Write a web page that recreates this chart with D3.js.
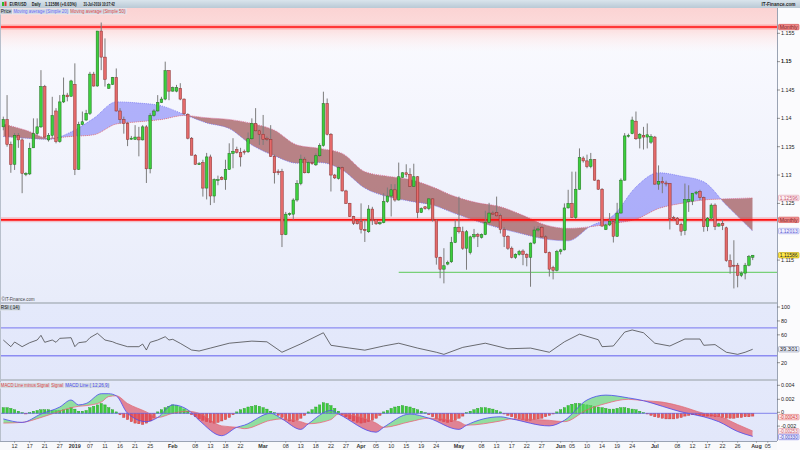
<!DOCTYPE html>
<html><head><meta charset="utf-8">
<script src="https://cdn.jsdelivr.net/npm/d3@7/dist/d3.min.js"></script>
<style>
html,body{margin:0;padding:0;background:#fff;}
svg{display:block;font-family:"Liberation Sans",Arial,sans-serif;}
</style></head><body>
<svg id="c" width="800" height="450"></svg>
<script>
// ---------------- DATA ----------------
const opens = [1.1385,1.1398,1.1354,1.1319,1.1370,1.1362,1.1302,1.1302,1.1348,1.1373,1.1385,1.1456,1.1362,1.1370,1.1413,1.1359,1.1429,1.1441,1.1439,1.1460,
1.1310,1.1389,1.1397,1.1409,1.1478,1.1457,1.1554,1.1508,1.1453,1.1460,1.1472,1.1413,1.1398,1.1391,1.1364,1.1363,1.1367,1.1362,1.1385,1.1311,
1.1405,1.1413,1.1428,1.1434,1.1484,1.1448,1.1448,1.1453,1.1434,1.1407,1.1365,1.1335,1.1320,1.1322,1.1277,1.1332,1.1263,1.1292,1.1296,1.1292,
1.1310,1.1338,1.1345,1.1340,1.1342,1.1341,1.1364,1.1391,1.1378,1.1372,1.1365,1.1363,1.1333,1.1306,1.1306,1.1195,1.1231,1.1231,1.1256,1.1285,
1.1328,1.1304,1.1322,1.1318,1.1334,1.1352,1.1426,1.1372,1.1300,1.1294,1.1313,1.1272,1.1250,1.1227,1.1219,1.1218,1.1204,1.1200,1.1240,1.1221,
1.1214,1.1216,1.1253,1.1263,1.1274,1.1256,1.1296,1.1304,1.1301,1.1280,1.1297,1.1234,1.1244,1.1241,1.1258,1.1221,1.1155,1.1134,1.1143,1.1147,
1.1181,1.1208,1.1200,1.1171,1.1163,1.1191,1.1195,1.1190,1.1195,1.1216,1.1233,1.1234,1.1229,1.1204,1.1192,1.1171,1.1155,1.1160,1.1166,1.1160,
1.1155,1.1180,1.1203,1.1208,1.1191,1.1163,1.1137,1.1132,1.1165,1.1168,1.1242,1.1250,1.1225,1.1275,1.1330,1.1325,1.1315,1.1327,1.1291,1.1275,
1.1204,1.1212,1.1218,1.1192,1.1233,1.1291,1.1369,1.1373,1.1395,1.1365,1.1370,1.1367,1.1358,1.1367,1.1284,1.1289,1.1286,1.1285,1.1225,1.1224,
1.1213,1.1202,1.1253,1.1254,1.1268,1.1271,1.1260,1.1209,1.1224,1.1247,1.1210,1.1215,1.1207,1.1149,1.1141,1.1141,1.1123,1.1127,1.1141,1.1155];
const highs = [1.1403,1.1441,1.1359,1.1374,1.1374,1.1365,1.1305,1.1357,1.1400,1.1400,1.1485,1.1459,1.1374,1.1438,1.1418,1.1441,1.1472,1.1445,1.1468,1.1497,
1.1394,1.1412,1.1415,1.1482,1.1482,1.1554,1.1569,1.1541,1.1462,1.1473,1.1488,1.1418,1.1403,1.1394,1.1369,1.1388,1.1385,1.1388,1.1388,1.1409,
1.1416,1.1441,1.1438,1.1500,1.1485,1.1456,1.1459,1.1462,1.1435,1.1409,1.1367,1.1337,1.1323,1.1327,1.1339,1.1336,1.1294,1.1299,1.1298,1.1327,
1.1356,1.1365,1.1350,1.1348,1.1345,1.1375,1.1400,1.1418,1.1380,1.1406,1.1368,1.1388,1.1336,1.1310,1.1311,1.1235,1.1234,1.1259,1.1291,1.1336,
1.1332,1.1324,1.1324,1.1338,1.1356,1.1447,1.1435,1.1374,1.1302,1.1315,1.1315,1.1274,1.1251,1.1228,1.1221,1.1250,1.1221,1.1247,1.1244,1.1222,
1.1218,1.1268,1.1278,1.1284,1.1284,1.1322,1.1305,1.1319,1.1312,1.1320,1.1298,1.1243,1.1245,1.1259,1.1259,1.1222,1.1156,1.1171,1.1149,1.1191,
1.1221,1.1262,1.1209,1.1203,1.1193,1.1205,1.1198,1.1197,1.1237,1.1251,1.1237,1.1262,1.1232,1.1208,1.1194,1.1174,1.1162,1.1168,1.1169,1.1162,
1.1181,1.1209,1.1210,1.1210,1.1194,1.1165,1.1140,1.1168,1.1170,1.1250,1.1274,1.1306,1.1306,1.1347,1.1333,1.1336,1.1339,1.1328,1.1292,1.1277,
1.1214,1.1233,1.1221,1.1251,1.1294,1.1374,1.1373,1.1403,1.1412,1.1374,1.1385,1.1391,1.1372,1.1369,1.1317,1.1297,1.1290,1.1286,1.1228,1.1226,
1.1216,1.1285,1.1282,1.1268,1.1272,1.1274,1.1262,1.1226,1.1250,1.1250,1.1216,1.1221,1.1209,1.1160,1.1185,1.1145,1.1130,1.1145,1.1159,1.1159];
const lows = [1.1379,1.1350,1.1304,1.1309,1.1348,1.1268,1.1298,1.1300,1.1348,1.1370,1.1383,1.1365,1.1359,1.1365,1.1356,1.1357,1.1427,1.1430,1.1438,1.1300,
1.1309,1.1388,1.1396,1.1406,1.1456,1.1456,1.1485,1.1456,1.1452,1.1459,1.1412,1.1391,1.1373,1.1351,1.1362,1.1362,1.1333,1.1361,1.1286,1.1303,
1.1403,1.1412,1.1427,1.1432,1.1432,1.1447,1.1446,1.1432,1.1406,1.1363,1.1335,1.1318,1.1318,1.1262,1.1257,1.1247,1.1251,1.1282,1.1291,1.1274,
1.1309,1.1312,1.1338,1.1315,1.1336,1.1339,1.1362,1.1377,1.1353,1.1353,1.1360,1.1332,1.1285,1.1300,1.1173,1.1194,1.1228,1.1221,1.1253,1.1282,
1.1303,1.1303,1.1318,1.1316,1.1332,1.1350,1.1370,1.1271,1.1293,1.1292,1.1271,1.1249,1.1226,1.1212,1.1213,1.1197,1.1182,1.1198,1.1212,1.1212,
1.1212,1.1215,1.1251,1.1227,1.1253,1.1255,1.1295,1.1296,1.1279,1.1279,1.1224,1.1233,1.1239,1.1238,1.1218,1.1142,1.1118,1.1109,1.1141,1.1145,
1.1180,1.1197,1.1168,1.1133,1.1160,1.1188,1.1173,1.1188,1.1194,1.1215,1.1230,1.1227,1.1197,1.1173,1.1168,1.1153,1.1152,1.1158,1.1141,1.1139,
1.1103,1.1178,1.1200,1.1189,1.1162,1.1121,1.1116,1.1130,1.1160,1.1167,1.1241,1.1224,1.1222,1.1274,1.1322,1.1312,1.1312,1.1290,1.1274,1.1209,
1.1203,1.1210,1.1181,1.1191,1.1232,1.1290,1.1366,1.1372,1.1362,1.1347,1.1345,1.1347,1.1355,1.1283,1.1274,1.1268,1.1280,1.1204,1.1220,1.1212,
1.1193,1.1194,1.1235,1.1247,1.1265,1.1256,1.1200,1.1201,1.1221,1.1203,1.1209,1.1203,1.1147,1.1126,1.1100,1.1102,1.1120,1.1116,1.1139,1.1150];
const closes = [1.1398,1.1354,1.1319,1.1370,1.1362,1.1303,1.1303,1.1347,1.1373,1.1385,1.1456,1.1367,1.1370,1.1405,1.1359,1.1429,1.1441,1.1438,1.1466,1.1310,
1.1389,1.1394,1.1409,1.1478,1.1457,1.1554,1.1508,1.1469,1.1460,1.1472,1.1413,1.1398,1.1391,1.1363,1.1365,1.1367,1.1362,1.1385,1.1311,1.1405,
1.1413,1.1428,1.1434,1.1484,1.1448,1.1454,1.1454,1.1434,1.1408,1.1365,1.1335,1.1319,1.1320,1.1277,1.1332,1.1263,1.1292,1.1292,1.1292,1.1310,
1.1338,1.1342,1.1340,1.1332,1.1341,1.1364,1.1391,1.1378,1.1372,1.1363,1.1363,1.1333,1.1304,1.1304,1.1195,1.1231,1.1232,1.1256,1.1285,1.1328,
1.1304,1.1322,1.1320,1.1334,1.1352,1.1426,1.1372,1.1300,1.1295,1.1313,1.1272,1.1250,1.1227,1.1215,1.1214,1.1204,1.1202,1.1240,1.1221,1.1214,
1.1216,1.1253,1.1263,1.1274,1.1256,1.1297,1.1304,1.1301,1.1280,1.1297,1.1234,1.1241,1.1241,1.1258,1.1221,1.1155,1.1134,1.1140,1.1146,1.1181,
1.1208,1.1200,1.1171,1.1200,1.1191,1.1195,1.1192,1.1195,1.1216,1.1233,1.1231,1.1228,1.1204,1.1192,1.1171,1.1155,1.1160,1.1165,1.1160,1.1155,
1.1180,1.1203,1.1205,1.1191,1.1163,1.1134,1.1132,1.1165,1.1168,1.1242,1.1250,1.1225,1.1275,1.1331,1.1325,1.1315,1.1327,1.1291,1.1275,1.1210,
1.1212,1.1218,1.1192,1.1233,1.1291,1.1369,1.1370,1.1397,1.1364,1.1372,1.1367,1.1371,1.1368,1.1284,1.1289,1.1286,1.1285,1.1223,1.1224,1.1213,
1.1201,1.1257,1.1257,1.1268,1.1270,1.1260,1.1209,1.1224,1.1247,1.1209,1.1214,1.1211,1.1149,1.1138,1.1140,1.1123,1.1127,1.1141,1.1156,1.11586];

// moving averages, read at candle indices
const maIdx = [0,6,12,18,24,30,36,42,48,54,60,66,72,78,84,90,96,102,108,114,120,126,132,138,144,150,156,162,168,174,180,186,192,199];
const sma20 = [1.1368,1.1365,1.1363,1.1376,1.1400,1.1429,1.1427,1.1422,1.1407,1.1392,1.1382,1.1353,1.1334,1.1321,1.1322,1.1309,1.1277,1.1262,1.1254,1.1247,1.1232,1.1218,1.1206,1.1196,1.1187,1.1184,1.1210,1.1229,1.1279,1.1304,1.1298,1.1288,1.1247,1.12013];
const sma50 = [1.1390,1.1379,1.1365,1.1368,1.1371,1.1390,1.1394,1.1398,1.1405,1.1401,1.1398,1.1391,1.1379,1.1353,1.1347,1.1338,1.1306,1.1298,1.1292,1.1279,1.1262,1.1251,1.1244,1.1229,1.1212,1.1206,1.1209,1.1215,1.1222,1.1241,1.1250,1.1256,1.1258,1.12596];

// RSI(14), read at candle indices
const rsiIdx = [0,2,3,5,7,9,10,11,13,14,15,18,19,20,22,23,25,27,29,30,33,36,37,38,39,41,43,44,45,47,50,52,55,60,66,70,74,79,85,87,92,96,101,105,110,115,117,122,128,134,140,145,149,153,158,159,162,165,167,170,173,177,181,185,186,189,192,195,197,199];
const rsiVal = [52.6,43,49.7,43,48.7,52.6,59.3,49.3,52.6,49.3,55,55.9,43,48.7,50.1,55.9,62.2,52.6,50.1,47.8,43,43,46.8,38.2,49.3,52.6,57.3,52.6,53.6,47.8,38.2,36.8,41,48,51,50,35,47,63,45,41,38,44,48,41,35,32,42,48,40,41,35,50,61,53,43,44,64,67,63,48,44,54,54,45,46,35,32,35,39.3];

// MACD (12,26,9) in units of 0.0001
const macdIdx = [0,5,10,15,18,20,22,26,28,30,33,38,41,45,49,52,58,62,64,71,74,79,81,87,89,99,101,108,113,121,123,132,135,145,149,155,160,166,170,175,180,186,190,195,199];
const macdLine = [-8,-13,-1,9,19,12,14,28,28,25,0,-12,-6,12,5,-10,-32,-20,-17,0,-8,-23,-15,4,-1,-27,-20,-1,-7,-23,-17,-5,-8,-18,-10,19,26,22,18,10,2,-5,-12,-26,-33];
const macdSignal = [-14,-13,-6,3,8,10,11,16,24,25,14,2,-6,0,3,0,-18,-20,-22,-10,-8,-12,-15,-9,-1,-14,-20,-12,-7,-12,-17,-11,-8,-10,-12,5,14,20,18,16,10,0,-4,-16,-25.3];
const macdHist = [8,8,7,5,3, 1,-1,1, 3,4,5,5,5,4,4,4,5,6, 8,6,3,3,4, 8,10,12,14,12,8,5, 2,-2,-6,-9,
 -12,-14,-15,-16,-14,-11,-6, 2,5,8,10,12,11,9,6,3, -2,-5,-8,-10,-12,-13,-14,-13,-11,-9,-6,
 -2,2,5,7,9,10,11,10,8,6,3,1, -3,-6,-9,-11,-12,-10,-7,-3, 2,5,9,12,15,14,11,7,3,
 -2,-5,-8,-11,-13,-14,-13,-12,-10,-7,-3, 2,4,7,9,10,11,10,9,7,5,3,1, -2,-5,-8,-10,-12,-13,-12,-10,-7,-4,
 1,3,5,7,8,8,7,6,4,2, -1,-3,-5,-7,-8,-9,-10,-10,-9,-8,-7,-5,-3,-1, 2,5,8,11,13,14,14,13,12,11,10,9,8,7,
 6,6,7,8,8,7,6,5,3,1, -1,-3,-5,-6,-7,-8,-8,-8,-7,-6, -4,-3,-2,-2,-3,-4,-4,-4,-5, -5,-6,-7,-7,-7,-6,-6,-5,-5,-4];

// levels
const monthlyLevels = [1.1561, 1.1221];
const supportLevel = 1.11285;
const supportStart = "2019-04-12";

// axis ticks
const tickDates = ["2018-12-12","2018-12-17","2018-12-21","2018-12-27","2019-01-02","2019-01-07","2019-01-11","2019-01-16","2019-01-21","2019-01-25",
"2019-02-01","2019-02-08","2019-02-13","2019-02-18","2019-02-22","2019-03-01","2019-03-08","2019-03-13","2019-03-18","2019-03-22","2019-03-27",
"2019-04-01","2019-04-05","2019-04-10","2019-04-15","2019-04-19","2019-04-24","2019-05-01","2019-05-08","2019-05-13","2019-05-17","2019-05-22","2019-05-27",
"2019-06-02","2019-06-05","2019-06-10","2019-06-14","2019-06-19","2019-06-24","2019-07-01","2019-07-08","2019-07-12","2019-07-17","2019-07-22","2019-07-26","2019-08-01","2019-08-05"];
const tickText = ["12","17","21","27","2019","07","11","16","21","25","Feb","08","13","18","22","Mar","08","13","18","22","27",
"Apr","05","10","15","19","24","May","08","13","17","22","27","Jun","05","10","14","19","24","Jul","08","12","17","22","26","Aug","05"];
const boldTicks = ["2019","Feb","Mar","Apr","May","Jun","Jul","Aug"];
const priceTicks = [1.155,1.15,1.145,1.14,1.135,1.13,1.125,1.115];
const rsiTicks = [100,80,60,20];
const macdTicks = [40,20,0,-20];
const macdTickText = ["0.004","0.002","0","-0.002"];

// ---------------- LAYOUT ----------------
const svg = d3.select('#c');
const defs = svg.append('defs');
const PR = 777;
const P = {top:8, bottom:302}, R = {top:304, bottom:379}, M = {top:381, bottom:441};

const fmt = d3.timeFormat('%Y-%m-%d');
const holidays = ["2018-12-25","2019-01-01"];
const days = d3.timeDay.range(new Date(2018,11,9), new Date(2019,7,8))
  .filter(d => d.getDay() !== 6 && !holidays.includes(fmt(d)));
const idxOf = new Map(days.map((d,i)=>[fmt(d), i]));

const x = d3.scaleLinear().domain([0, closes.length-1]).range([3.3, 752.7]);
const y = d3.scaleLinear().domain([1.155, 1.115]).range([33.3, 260.1]);
const yr = d3.scaleLinear().domain([100, 20]).range([307, 362.7]);
const ym = d3.scaleLinear().domain([40, -40]).range([385.3, 441.3]);

function vgrad(id, stops){
  const g = defs.append('linearGradient').attr('id',id).attr('x1',0).attr('x2',0).attr('y1',0).attr('y2',1);
  stops.forEach(s=>g.append('stop').attr('offset',s[0]).attr('stop-color',s[1]).attr('stop-opacity',s[2]===undefined?1:s[2]));
}
vgrad('gMain', [[0,'#fbfbff'],[1,'#e8ecfa']]);
vgrad('gSub', [[0,'#e4e9fb'],[1,'#e2e7fa']]);
vgrad('gPink', [[0,'#fbd3d3'],[0.45,'#fcdcdc'],[1,'#fff0f0',0]]);
vgrad('gTitle', [[0,'#d9e4ec'],[1,'#b9c9d5']]);

svg.append('rect').attr('width',800).attr('height',450).attr('fill','#f7f8fb');
svg.append('rect').attr('x',0).attr('y',P.top).attr('width',PR).attr('height',P.bottom-P.top).attr('fill','url(#gMain)');
svg.append('rect').attr('x',0).attr('y',R.top).attr('width',PR).attr('height',R.bottom-R.top).attr('fill','url(#gSub)');
svg.append('rect').attr('x',0).attr('y',M.top).attr('width',PR).attr('height',M.bottom-M.top).attr('fill','url(#gSub)');
svg.append('rect').attr('x',0).attr('y',P.top).attr('width',PR).attr('height',44).attr('fill','url(#gPink)');

defs.append('clipPath').attr('id','clipP').append('rect').attr('x',0).attr('y',P.top).attr('width',PR).attr('height',P.bottom-P.top);
defs.append('clipPath').attr('id','clipM').append('rect').attr('x',0).attr('y',M.top).attr('width',PR).attr('height',M.bottom-M.top);

function diffArea(g, idxs, a, b, sc, top, bottom, id, colA, colB){
  const pts = idxs.map((v,i)=>({x:x(v), a:sc(a[i]), b:sc(b[i])}));
  const curve = d3.curveMonotoneX;
  defs.append('clipPath').attr('id',id+'A').append('path')
    .attr('d', d3.area().x(d=>d.x).y0(top).y1(d=>d.b).curve(curve)(pts));
  defs.append('clipPath').attr('id',id+'B').append('path')
    .attr('d', d3.area().x(d=>d.x).y0(bottom).y1(d=>d.b).curve(curve)(pts));
  const ar = d3.area().x(d=>d.x).y0(d=>d.b).y1(d=>d.a).curve(curve);
  g.append('path').attr('clip-path',`url(#${id}A)`).attr('d',ar(pts)).attr('fill',colA);
  g.append('path').attr('clip-path',`url(#${id}B)`).attr('d',ar(pts)).attr('fill',colB);
  return pts;
}

// ---------- PRICE PANEL ----------
const gp = svg.append('g').attr('clip-path','url(#clipP)');
const maPts = diffArea(gp, maIdx, sma20, sma50, y, P.top, P.bottom, 'ma', 'rgba(118,118,248,0.55)', 'rgba(142,48,48,0.58)');
gp.append('path').attr('d', d3.line().x(d=>d.x).y(d=>d.b).curve(d3.curveMonotoneX)(maPts))
  .attr('fill','none').attr('stroke','#e0607a').attr('stroke-width',0.8).attr('stroke-dasharray','1,1');
gp.append('path').attr('d', d3.line().x(d=>d.x).y(d=>d.a).curve(d3.curveMonotoneX)(maPts))
  .attr('fill','none').attr('stroke','#7070f0').attr('stroke-width',0.8).attr('stroke-dasharray','1,1');

monthlyLevels.forEach(v=>{
  gp.append('line').attr('x1',0).attr('x2',PR).attr('y1',y(v)).attr('y2',y(v)).attr('stroke','#ff3030').attr('stroke-opacity',0.25).attr('stroke-width',5);
  gp.append('line').attr('x1',0).attr('x2',PR).attr('y1',y(v)).attr('y2',y(v)).attr('stroke','#ff1010').attr('stroke-width',1.6);
});
gp.append('line').attr('x1',x(idxOf.get(supportStart))).attr('x2',PR).attr('y1',y(supportLevel)).attr('y2',y(supportLevel))
  .attr('stroke','#78d078').attr('stroke-width',1.2);

const cw = 2.6;
const cd = closes.map((c,i)=>({i, o:opens[i], h:highs[i], l:lows[i], c}));
gp.selectAll('line.wick').data(cd).join('line').attr('class','wick')
  .attr('x1',d=>x(d.i)).attr('x2',d=>x(d.i)).attr('y1',d=>y(d.h)).attr('y2',d=>y(d.l))
  .attr('stroke','#7c7c7c').attr('stroke-width',1);
gp.selectAll('rect.body').data(cd).join('rect').attr('class','body')
  .attr('x',d=>x(d.i)-cw/2).attr('width',cw)
  .attr('y',d=>y(Math.max(d.o,d.c)))
  .attr('height',d=>Math.max(1, Math.abs(y(d.o)-y(d.c))))
  .attr('fill',d=>d.c>=d.o?'#3ccf3c':'#e46a6a')
  .attr('stroke',d=>d.c>=d.o?'#1f6f1f':'#8a2e2e').attr('stroke-width',0.5);

// ---------- RSI PANEL ----------
[70,30].forEach(v=>svg.append('line').attr('x1',0).attr('x2',PR).attr('y1',yr(v)).attr('y2',yr(v)).attr('stroke','#8c8cf2').attr('stroke-width',1.4));
svg.append('path').datum(rsiIdx.map((v,i)=>[x(v), yr(rsiVal[i])]))
  .attr('d', d3.line()).attr('fill','none').attr('stroke','#333').attr('stroke-width',0.7);

// ---------- MACD PANEL ----------
const gm = svg.append('g').attr('clip-path','url(#clipM)');
gm.selectAll('rect.hist').data(macdHist).join('rect').attr('class','hist')
  .attr('x',(d,i)=>x(i)-1.2).attr('width',2.4)
  .attr('y',d=>d>=0?ym(d):ym(0)).attr('height',d=>Math.max(0.5,Math.abs(ym(d)-ym(0))))
  .attr('fill',d=>d>=0?'#3ccc3c':'#ec5a5a').attr('stroke',d=>d>=0?'#239a23':'#b83838').attr('stroke-width',0.4);
const mPts = diffArea(gm, macdIdx, macdLine, macdSignal, ym, M.top, M.bottom, 'md', 'rgba(90,215,100,0.6)', 'rgba(222,70,85,0.62)');
gm.append('path').attr('d', d3.line().x(d=>d.x).y(d=>d.b).curve(d3.curveMonotoneX)(mPts))
  .attr('fill','none').attr('stroke','#e86070').attr('stroke-width',0.7);
gm.append('path').attr('d', d3.line().x(d=>d.x).y(d=>d.a).curve(d3.curveMonotoneX)(mPts))
  .attr('fill','none').attr('stroke','#4a4af0').attr('stroke-width',0.8);
gm.append('line').attr('x1',0).attr('x2',PR).attr('y1',ym(0)).attr('y2',ym(0)).attr('stroke','#6a6ae8').attr('stroke-width',0.8);

// ---------- SEPARATORS / AXES ----------
[[P.bottom,2],[M.top-2,2]].forEach(s=>{
  svg.append('rect').attr('x',0).attr('y',s[0]).attr('width',PR).attr('height',s[1]).attr('fill','#bcc3ce');
});
svg.append('rect').attr('x',0).attr('y',M.bottom).attr('width',800).attr('height',9).attr('fill','#f8f9fb');
svg.append('line').attr('x1',0).attr('x2',PR).attr('y1',M.bottom+0.5).attr('y2',M.bottom+0.5).attr('stroke','#9aa3b3');
svg.append('rect').attr('x',PR).attr('y',8).attr('width',23).attr('height',442).attr('fill','#fbfbfd');
svg.append('line').attr('x1',PR+0.5).attr('x2',PR+0.5).attr('y1',8).attr('y2',M.bottom).attr('stroke','#9aa3b3');
svg.append('line').attr('x1',0.5).attr('x2',0.5).attr('y1',8).attr('y2',M.bottom).attr('stroke','#b8c0cc');

function axisLabel(yy, txt, bold){
  svg.append('line').attr('x1',PR).attr('x2',PR+3).attr('y1',yy).attr('y2',yy).attr('stroke','#555').attr('stroke-width',0.6);
  svg.append('text').attr('x',PR+4).attr('y',yy+1.8).attr('font-size',5.4).attr('fill','#222')
    .attr('font-weight',bold?'bold':'normal').text(txt);
}
priceTicks.forEach(v=>axisLabel(y(v), d3.format('')(v), v===1.15));
rsiTicks.forEach(v=>axisLabel(yr(v), String(v)));
macdTicks.forEach((v,i)=>axisLabel(ym(v)-(v===0?1:0)-(v===-20?1.2:0), macdTickText[i]));

tickDates.forEach((d,i)=>{
  const xi = x(idxOf.get(d));
  svg.append('line').attr('x1',xi).attr('x2',xi).attr('y1',M.bottom).attr('y2',M.bottom+2).attr('stroke','#777').attr('stroke-width',0.5);
  svg.append('text').attr('x',xi).attr('y',448).attr('text-anchor','middle').attr('font-size',5.4)
    .attr('font-weight',boldTicks.includes(tickText[i])?'bold':'normal').attr('fill','#333').text(tickText[i]);
});

function badge(yy, txt, fill, stroke, col){
  svg.append('rect').attr('x',PR+1.5).attr('y',yy-2.7).attr('width',20.5).attr('height',5.4).attr('fill',fill).attr('stroke',stroke).attr('stroke-width',0.6).attr('rx',0.8);
  svg.append('text').attr('x',PR+2.7).attr('y',yy+1.7).attr('font-size',4.8).attr('fill',col)
    .attr('textLength',18).attr('lengthAdjust','spacingAndGlyphs').text(txt);
}
badge(y(monthlyLevels[0]), 'Monthly', '#f08c8c', '#d04848', '#7a1a1a');
badge(y(1.12596), '1.12596', '#fdeef2', '#e39aab', '#c85870');
badge(y(monthlyLevels[1]), 'Monthly', '#f08c8c', '#d04848', '#7a1a1a');
badge(y(1.12013), '1.12013', '#eeeeff', '#9a9ae6', '#5a5ad0');
badge(y(1.11586), '1.11586', '#ffe94a', '#b89a00', '#222');
badge(yr(39.301), '39.301', '#eef0fb', '#8890aa', '#222');
badge(ym(-4.3)+0.8, '-0.00043', '#fde4e4', '#e07070', '#d03030');
badge(ym(-25.3)+0.2, '-0.00253', '#fbeef0', '#e090a0', '#d06070');
badge(ym(-33.0)+0.6, '-0.00330', '#eceefe', '#7070e0', '#4040c0');

// title bar
svg.append('rect').attr('x',0).attr('y',0).attr('width',800).attr('height',8).attr('fill','url(#gTitle)');
svg.append('rect').attr('x',2).attr('y',2).attr('width',2).attr('height',4).attr('fill','#2fb82f');
svg.append('rect').attr('x',4.5).attr('y',1.5).attr('width',2).attr('height',4.5).attr('fill','#d83a3a');
function fitText(xx, yy, w, txt, size, col, weight){
  return svg.append('text').attr('x',xx).attr('y',yy).attr('font-size',size).attr('fill',col)
    .attr('font-weight',weight||'normal').attr('textLength',w).attr('lengthAdjust','spacingAndGlyphs').text(txt);
}
fitText(9.5, 6.2, 17, 'EUR/USD', 5.2, '#1a1a1a', 'bold');
fitText(31.7, 6.2, 9, 'Daily', 5.2, '#1a1a1a', 'bold');
fitText(45, 6.2, 31.5, '1.11586 (+0.03%)', 5.2, '#1a1a1a', 'bold');
fitText(83.4, 6.2, 31.5, '31-Jul-2019 10:27:42', 5.2, '#1a1a1a', 'bold');
fitText(761.5, 6.4, 34, 'IT-Finance.com', 5.2, '#2a2a2a', 'bold');

// legends
function legendRow(yy, items){
  items.forEach(it=>{
    svg.append('rect').attr('x',it[0]).attr('y',yy).attr('width',it[1]).attr('height',5.4).attr('fill',it[4]||'#d3dae3').attr('stroke','#eef1f5').attr('stroke-width',0.4);
    svg.append('text').attr('x',it[0]+0.8).attr('y',yy+4.3).attr('font-size',4.6).attr('fill',it[3])
      .attr('textLength',it[1]-1.8).attr('lengthAdjust','spacingAndGlyphs').text(it[2]);
  });
}
legendRow(8.7, [[0,12.3,'Price','#222','#bfc9d4'],[12.6,56.6,'Moving average (Simple 20)','#6a6af8'],[69.5,57,'Moving average (Simple 50)','#e04848']]);
legendRow(305, [[0,20.5,'RSI ( 14)','#222','#bcc6cf']]);
legendRow(382.8, [[0,50.2,'MACD Line minus Signal','#e04848'],[50.5,13.6,'Signal','#e04848'],[64.4,45.6,'MACD Line ( 12,26,9)','#4a4af0']]);
fitText(1.5, 300.6, 33, '©IT-Finance.com', 4.6, '#444');
</script>
</body></html>
